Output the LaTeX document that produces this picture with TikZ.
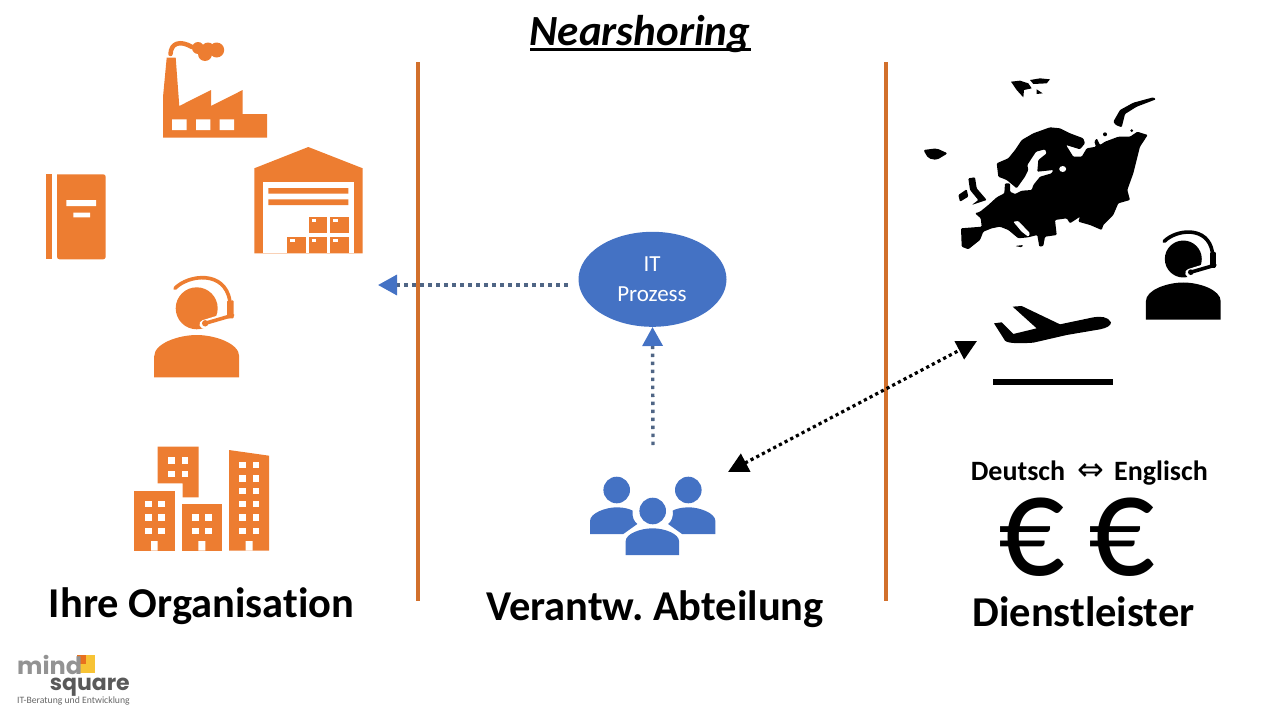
\documentclass[tikz,border=0pt]{standalone}
\usepackage{fontspec}
\setmainfont[Ligatures=NoCommon]{Carlito}
\newfontfamily\logofont{Poppins}
\newfontfamily\symfont{DejaVu Sans}
\usetikzlibrary{arrows.meta, shapes.geometric}
\frenchspacing
\definecolor{iconorange}{HTML}{ED7D31}
\definecolor{lineorange}{HTML}{D2702C}
\definecolor{itblue}{HTML}{4472C4}
\definecolor{dotslate}{HTML}{4F6585}
\definecolor{logoyellow}{HTML}{F7C335}
\definecolor{logoorange}{HTML}{E8701E}
\tikzset{
  caption/.style={font=\bfseries\fontsize{42.5}{42.5}\selectfont, anchor=base, inner sep=0pt},
  langtext/.style={font=\bfseries\fontsize{28}{28}\selectfont, anchor=base, inner sep=0pt},
  eurosign/.style={font=\fontsize{146}{146}\selectfont, anchor=base, inner sep=0pt, xscale=0.9, transform shape, text height=78pt, text depth=0pt},
  proctext/.style={white, font=\fontsize{23}{23}\selectfont, anchor=base, inner sep=0pt},
  divider/.style={lineorange, line width=3.4pt},
  bluelink/.style={dotslate, line width=3.4pt, dash pattern=on 3.4pt off 4.6pt,
    -{Triangle[length=19pt,width=20pt,color=itblue,fill=itblue,sep=0pt]}},
  blacklink/.style={black, line width=3.2pt, dash pattern=on 3.2pt off 3.2pt,
    {Triangle[length=20pt,width=20pt]}-{Triangle[length=20pt,width=20pt]}},
  zoomed/.style={x=0.33333pt, y=-0.33333pt},
  agent/.pic={
    \fill (0,0) circle (21);
    \fill (-42.5,69) -- (-42.5,48) .. controls (-42.5,35) and (-18,26.7) .. (0,26.7)
      .. controls (18,26.7) and (42.5,35) .. (42.5,48) -- (42.5,69) -- cycle;
    \draw[white, line width=8.5pt, line cap=round] (7,16) -- (36,7);
    \draw[line width=3.6pt, line cap=round] (-21.7,-20) .. controls (-8,-34) and (28,-38) .. (33,-8);
    \fill[rounded corners=1pt] (30.5,-8) rectangle (37,10);
    \draw[line width=3.6pt, line cap=round] (36,7) -- (8.5,15);
    \fill (8.5,15) circle (3.2);
  }
}
\begin{document}
\begin{tikzpicture}[x=1pt, y=-1pt]
\useasboundingbox (0,0) rectangle (1280,720);

% title and captions
\node[font=\bfseries\itshape\fontsize{43}{43}\selectfont, anchor=base, inner sep=0pt] (title) at (640,45) {Nearshoring};
\draw[black, line width=2.4pt] (530,49.5) -- (751,49.5);
\node[caption] (org) at (201.5,617) {Ihre Organisation};
\node[caption] (dept) at (655,620) {Verantw. Abteilung};
\node[caption] (provider) at (1083.5,626) {Dienstleister};

% dividers
\draw[divider] (418,62) -- (418,601);
\draw[divider] (886,62) -- (886,601);

% factory
\fill[iconorange] (163,137.7) -- (163,97) -- (166.7,57.7) -- (175.7,57.7) -- (179.3,106) -- (211,90) -- (211,106)
  -- (242.7,90) -- (242.7,114) -- (267,114) -- (267,137.7) -- cycle;
\fill[white] (172,119.3) rectangle (186.7,130) (196,119.3) rectangle (210.3,130) (219.7,119.3) rectangle (234,130);
\draw[iconorange, line width=4.5pt, line cap=round] (170.5,54) .. controls (171,43) and (180,40) .. (192,47);
\fill[iconorange] (198,48) circle (6) (205,54) circle (7) (216.7,50) circle (7.5) (208,49) circle (6.5);

% book
\fill[iconorange] (46,174.3) rectangle (52.3,259.3);
\fill[iconorange, rounded corners=2.5pt] (57,174.3) -- (105.7,174.3) -- (105.7,259.3) -- (57,259.3) [sharp corners] -- cycle;
\fill[white] (66.3,200) rectangle (96,206) (73.3,212.7) rectangle (90,217.3);

% warehouse
\fill[iconorange] (254.3,253.3) -- (254.3,168.3) -- (308.3,147) -- (362.7,168.3) -- (362.7,253.3) -- cycle;
\fill[white] (263,182.3) rectangle (354,253.3);
\fill[iconorange] (268.3,188) rectangle (348.3,193.7) (268.3,199.3) rectangle (348.3,205);
\foreach \bx/\by in {308.7/216.7, 330.3/216.7, 287.3/236.7, 308.7/236.7, 330.3/236.7} {
  \fill[iconorange] (\bx,\by) rectangle ++(18.2,16.6);
  \fill[white] (\bx+3,\by+2.5) rectangle ++(4.5,2.5);
}

% agent, orange
\pic[iconorange, fill=iconorange] at (196.7,308.3) {agent};

% buildings
\fill[iconorange] (157.7,446.7) -- (198.7,446.7) -- (198.7,497.3) -- (182.7,497.3) -- (182.7,483.3) -- (157.7,483.3) -- cycle;
\fill[iconorange] (134.3,490.7) rectangle (175,550.7);
\fill[iconorange] (181.7,504) rectangle (221.7,550.7);
\fill[iconorange] (229,450) -- (269,455.7) -- (269,550.7) -- (229,550.7) -- cycle;
\fill[white] (151,541) rectangle (157.7,550.7) (198.3,541) rectangle (205.3,550.7) (245.7,541) rectangle (252.7,550.7);
\foreach \wx/\wy in {168.3/457.3, 181.7/457.3, 168.3/470.7, 181.7/470.7,
    145/500.7, 158.3/500.7, 145/514, 158.3/514, 145/527.7, 158.3/527.7,
    192.3/514, 205.3/514, 192.3/527.7, 205.3/527.7} {
  \fill[white] (\wx,\wy) rectangle ++(6.7,6.7);
}
\foreach \wx in {239.3,252.7} \foreach \wy in {461.7,475,487.7,500.7,514.3,527.7} {
  \fill[white] (\wx,\wy) rectangle ++(6.7,6.7);
}

% IT process
\node[ellipse, fill=itblue, minimum width=148pt, minimum height=95pt, inner sep=0pt] (process) at (652.5,279.3) {};
\node[proctext] (it) at (652,271) {IT};
\node[proctext] (prozess) at (652,301) {Prozess};

% team
\fill[itblue] (616.7,490) circle (13.3) (688.3,490) circle (13.3) (652.7,511) circle (13.3);
\fill[itblue] (590,534) -- (590,521) .. controls (590,513) and (606,507.3) .. (616.7,507.3) .. controls (624,507.3) and (630,509) .. (632.7,510.7)
  .. controls (632,518) and (634,521) .. (637.3,524) -- (623.3,534) -- cycle;
\fill[itblue] (715.4,534) -- (715.4,521) .. controls (715.4,513) and (699.4,507.3) .. (688.7,507.3) .. controls (681.4,507.3) and (675.4,509) .. (672.7,510.7)
  .. controls (673.4,518) and (671.4,521) .. (668.1,524) -- (682.1,534) -- cycle;
\fill[itblue] (625.7,555) -- (625.7,541) .. controls (625.7,534) and (640,528.3) .. (652.7,528.3) .. controls (665,528.3) and (679,534) .. (679,541) -- (679,555) -- cycle;

% connectors
\coordinate (orgside) at (378,285);
\coordinate (teamtop) at (653,445);
\coordinate (teamside) at (728,472);
\coordinate (planeside) at (977,341);
\draw[bluelink, shorten <=11pt] (process.center |- orgside) ++(-74,0) -- (orgside);
\draw[bluelink] (teamtop) -- (process.south);
\draw[blacklink] (teamside) -- (planeside);

% europe
\begin{scope}[rounded corners=1pt]
\fill[black] (961,228.3) -- (961.7,246.7) -- (968.3,249.3) -- (980,240) -- (983.3,231.7) -- (991.7,228.3) -- (1000,226.7) -- (1008.3,230) -- (1018.3,238.3)
  -- (1028.3,237.3) -- (1037.3,235) -- (1039.3,246.7) -- (1043.3,246) -- (1045,236.7) -- (1056.7,235) -- (1055,220) -- (1066.7,218.3) -- (1070,223.3)
  -- (1080,216.7) -- (1078.3,221.7) -- (1090,225) -- (1101.7,230) -- (1103.3,225) -- (1113.3,215) -- (1118.3,203.3) -- (1130,200) -- (1127.3,190)
  -- (1133.3,173.3) -- (1140,146.7) -- (1147.7,135) -- (1137.3,131.7) -- (1130,136.7) -- (1118.3,136.7) -- (1105,141.7) -- (1100,145) -- (1096.7,138.3)
  -- (1094.3,141.7) -- (1096,146.7) -- (1086.7,148.3) -- (1081.7,156.7) -- (1073.3,156.7) -- (1066,145) -- (1080,149.3) -- (1085,143.3) -- (1083.3,138.3)
  -- (1070,133.3) -- (1060,128.3) -- (1050,127.3) -- (1033.3,133.3) -- (1021.7,140) -- (1015,150) -- (1008.3,158.3) -- (996.7,163.3) -- (998.3,176.7)
  -- (1006.7,180) -- (1016.7,188.3) -- (1025,176.7) -- (1028.3,170) -- (1027.3,165) -- (1036,151.7) -- (1045,149.3) -- (1046.7,153.3) -- (1038.3,160)
  -- (1037.3,171.7) -- (1053.3,170) -- (1051.7,173.3) -- (1040,176.7) -- (1033.3,185) -- (1031.7,190) -- (1021.7,190.7) -- (1015,194) -- (1010,191.7)
  -- (1010,183.3) -- (1005,183.3) -- (1004.3,193.3) -- (996.7,197.3) -- (988.3,205) -- (980,211.7) -- (975,213.3) -- (980.7,218.3) -- (981.7,226.7) -- cycle;
\fill[white] (1013.3,221.7) -- (1018.3,221) -- (1030,233.3) -- (1028.3,236.7) -- (1021.7,231.7) -- cycle;
\fill[white] (1062.7,169) ellipse (3.5 and 3);
\fill[black] (1113.3,121.7) -- (1120,110) -- (1133.3,102.7) -- (1153.3,97.3) -- (1156,99.3) -- (1136.7,106.7) -- (1125,114) -- (1121.7,127.3) -- (1115.7,125) -- cycle;
\fill[black] (1105,134.3) circle (2) (1131.7,130.7) circle (1.5);
\fill[black] (968.3,178.3) -- (975,177.3) -- (976.7,188.3) -- (986.7,200) -- (971.7,205) -- (978.3,200) -- (970,190) -- cycle;
\fill[black] (958.3,195) -- (966.7,189.3) -- (968.3,196.7) -- (960,201.7) -- cycle;
\fill[black] (1015,246) -- (1023.3,245) -- (1021.7,247.3) -- cycle;
\end{scope}
\begin{scope}[shift={(900,60)}, zoomed]
% islands
\fill[black] (333,65) -- (360,62) -- (385,70) -- (395,85) -- (372,90) -- (370,112) -- (350,90) -- cycle;
\fill[black] (390,60) -- (420,55) -- (450,58) -- (440,70) -- (400,72) -- cycle;
\fill[black] (410,88) -- (428,100) -- (410,102) -- cycle;
\fill[black, rounded corners=2pt] (70,270) -- (110,265) -- (143,280) -- (110,300) -- (85,295) -- cycle;
% plane
\fill[black] (633,787) .. controls (625,770) and (600,768) .. (580,772) -- (480,793) -- (365,738) -- (338,740) -- (410,805) -- (340,822) -- (305,787) -- (282,790)
  -- (315,842) .. controls (325,852) and (370,850) .. (400,848) -- (500,825) -- (600,808) .. controls (620,804) and (633,797) .. (633,787) -- cycle;
\fill[black] (278,958) rectangle (640,975);
\end{scope}

% agent, black
\pic[black, fill=black, scale=0.88] at (1183.3,259) {agent};

% languages and currency
\node[langtext] (deutsch) at (1018,480) {Deutsch};
\node[font=\symfont\fontsize{32}{32}\selectfont, anchor=base, inner sep=0pt] (swap) at (1090.5,480) {⇔};
\node[langtext] (englisch) at (1161,480) {Englisch};
\node[eurosign] (euroa) at (1031.5,575) {€};
\node[eurosign] (eurob) at (1121.5,575) {€};

% logo
\fill[logoyellow] (77.3,655) rectangle (95,672.7);
\fill[logoorange] (77.3,655) rectangle (86,664);
\node[font=\logofont\bfseries\fontsize{24}{24}\selectfont, text=gray!85, anchor=base west, inner sep=0pt] (mind) at (17,674) {mind};
\node[font=\logofont\bfseries\fontsize{22}{22}\selectfont, text=black!65, anchor=base east, inner sep=0pt] (square) at (130,690) {square};
\node[font=\fontsize{9.7}{9.7}\selectfont, text=black!60, anchor=base west, inner sep=0pt] (claim) at (17,703) {IT-Beratung und Entwicklung};
\end{tikzpicture}
\end{document}
